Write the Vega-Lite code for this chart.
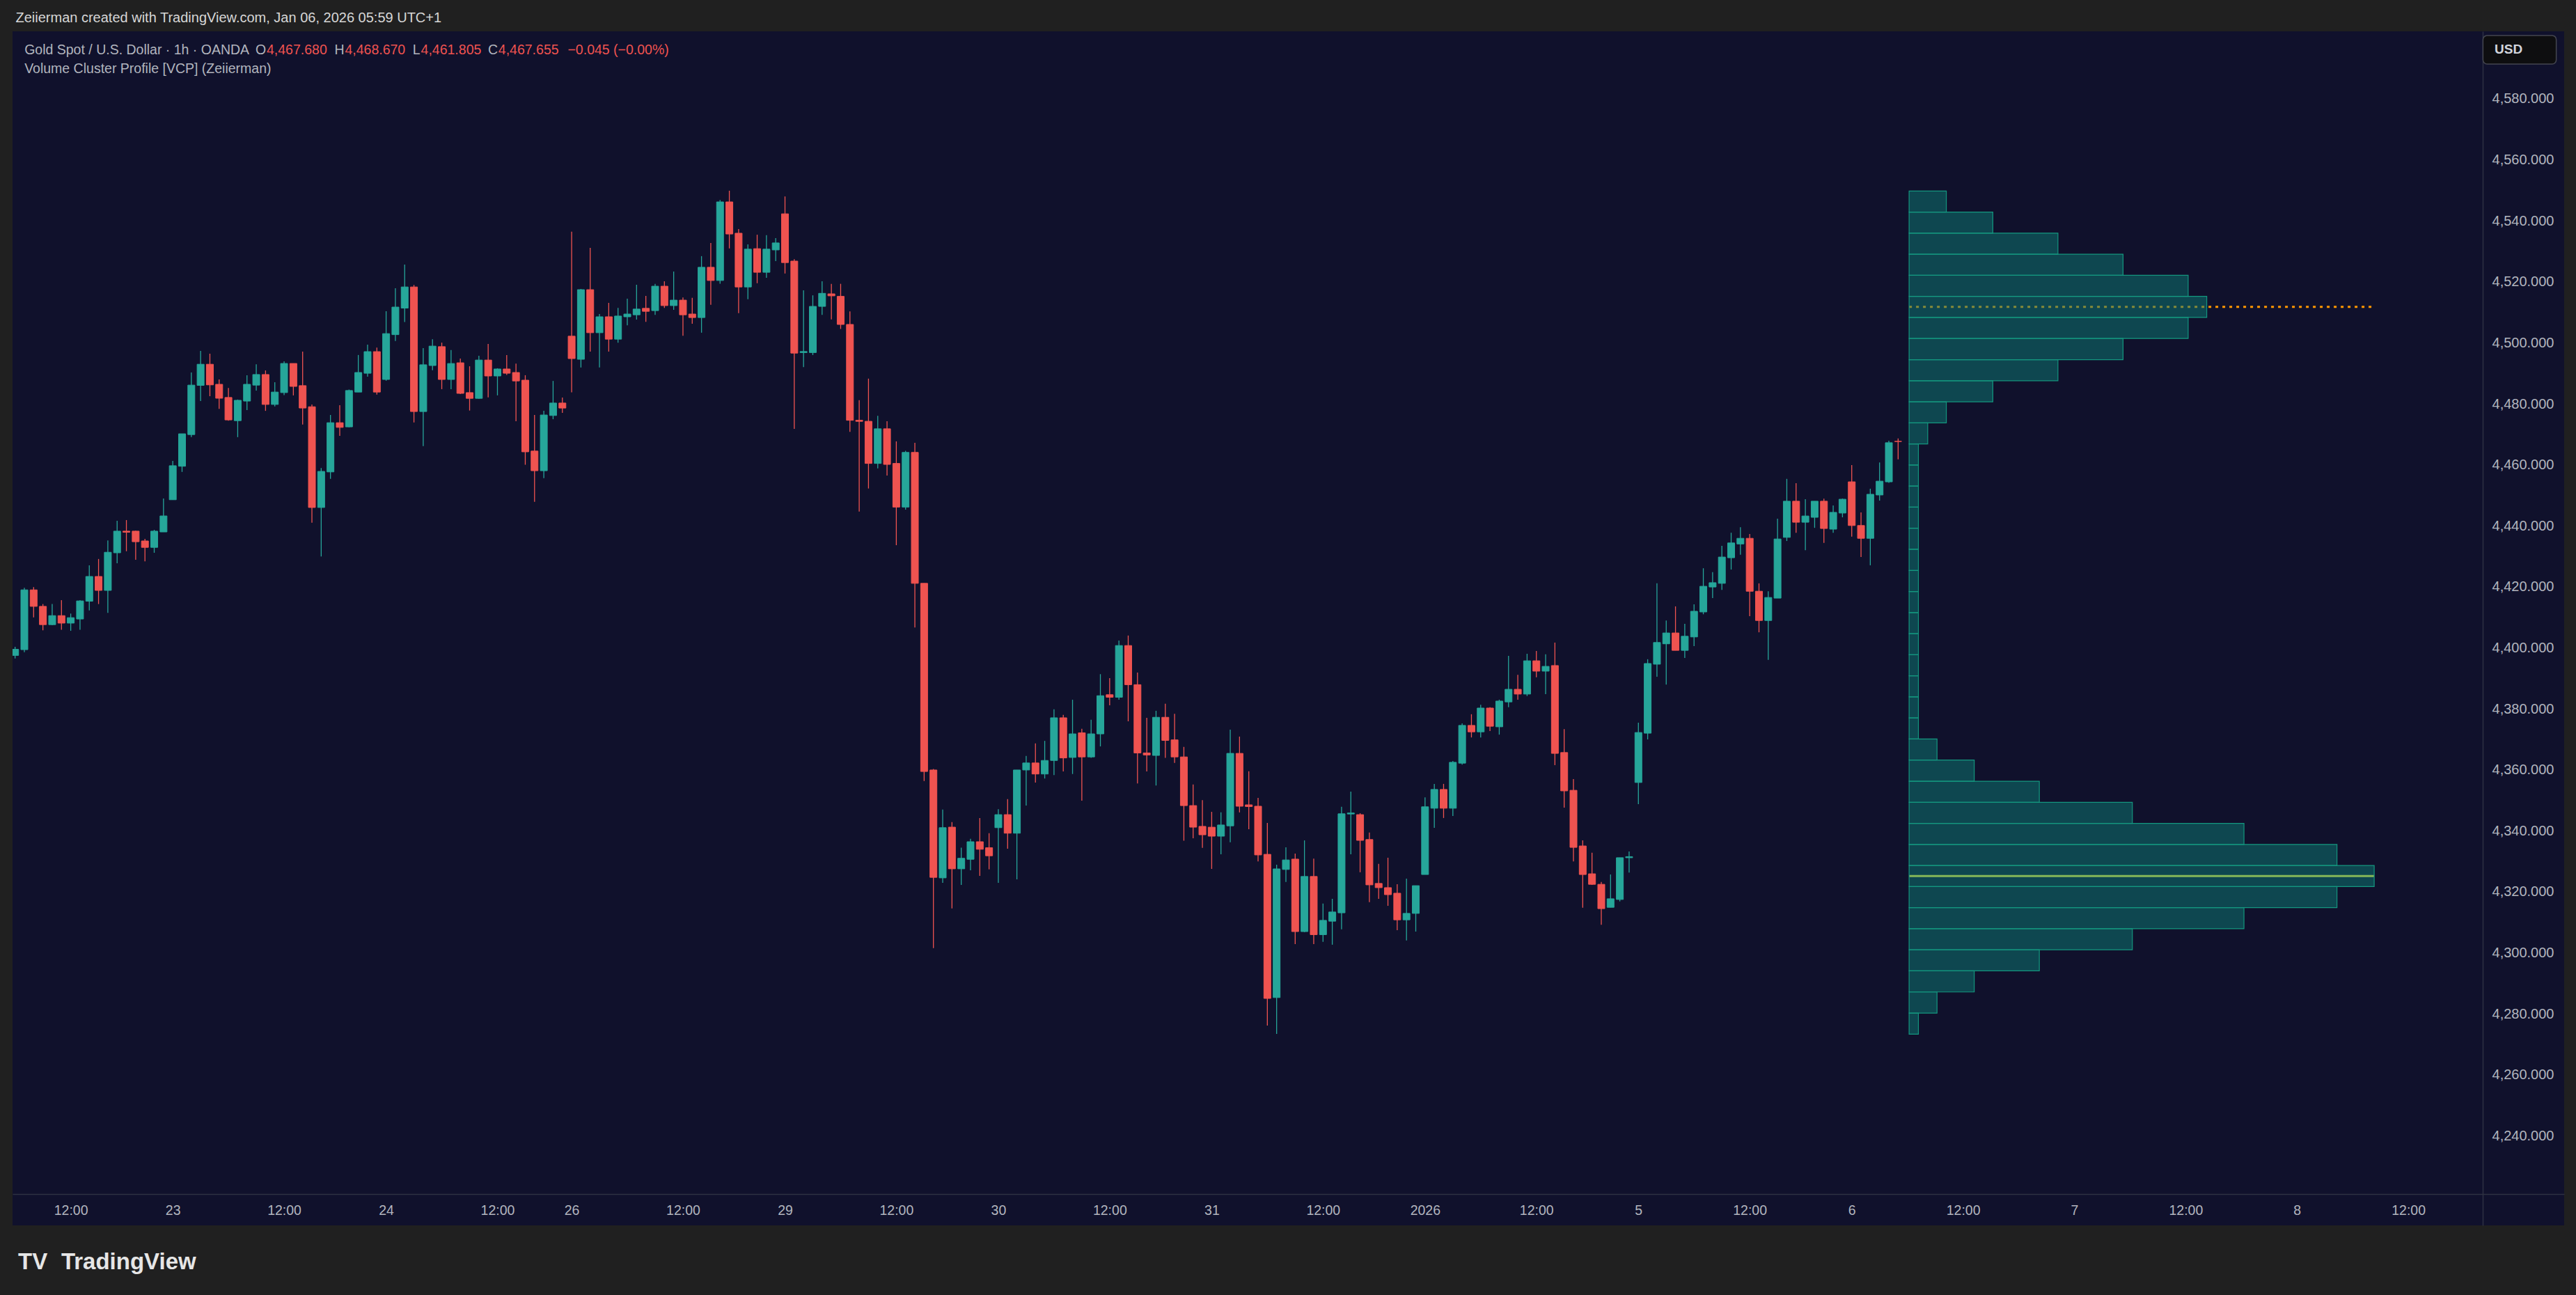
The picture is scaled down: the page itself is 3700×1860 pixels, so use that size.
{
  "$schema": "https://vega.github.io/schema/vega-lite/v6.json",
  "width": 3665,
  "height": 1715,
  "autosize": {"type": "none"},
  "padding": {"left": 18, "top": 45, "right": 17, "bottom": 100},
  "background": "#202020",
  "config": {
    "view": {"fill": "#10112c", "stroke": null},
    "text": {"font": "Liberation Sans"}
  },
  "datasets": {
    "candles": [
      {"i":6,"o":4397.5,"h":4400.3,"l":4396.5,"c":4399.5},
      {"i":7,"o":4399.39,"h":4419.66,"l":4398.55,"c":4418.99},
      {"i":8,"o":4418.99,"h":4419.92,"l":4409.95,"c":4413.58},
      {"i":9,"o":4413.58,"h":4414.34,"l":4405.73,"c":4407.59},
      {"i":10,"o":4407.59,"h":4414.34,"l":4407.42,"c":4410.54},
      {"i":11,"o":4410.54,"h":4415.61,"l":4405.9,"c":4408.09},
      {"i":12,"o":4408.09,"h":4411.22,"l":4405.56,"c":4409.87},
      {"i":13,"o":4409.44,"h":4415.61,"l":4405.9,"c":4415.36},
      {"i":14,"o":4415.27,"h":4427.01,"l":4412.23,"c":4423.38},
      {"i":15,"o":4423.38,"h":4429.12,"l":4414.34,"c":4418.82},
      {"i":16,"o":4418.82,"h":4435.2,"l":4411.47,"c":4431.32},
      {"i":17,"o":4431.15,"h":4441.62,"l":4427.69,"c":4438.24},
      {"i":18,"o":4438.24,"h":4441.88,"l":4431.66,"c":4437.9},
      {"i":19,"o":4438.24,"h":4438.41,"l":4428.87,"c":4434.78},
      {"i":20,"o":4435.03,"h":4435.71,"l":4428.36,"c":4432.92},
      {"i":21,"o":4432.92,"h":4438.67,"l":4431.15,"c":4438.24},
      {"i":22,"o":4437.99,"h":4448.97,"l":4437.99,"c":4443.23},
      {"i":23,"o":4448.55,"h":4461.3,"l":4448.55,"c":4459.7},
      {"i":24,"o":4459.53,"h":4470.17,"l":4457.67,"c":4470.17},
      {"i":25,"o":4469.92,"h":4490.27,"l":4469.07,"c":4486.13},
      {"i":26,"o":4486.05,"h":4497.37,"l":4480.9,"c":4492.97},
      {"i":27,"o":4492.97,"h":4496.44,"l":4482.5,"c":4486.22},
      {"i":28,"o":4486.39,"h":4487.99,"l":4478.36,"c":4481.83},
      {"i":29,"o":4482.08,"h":4485.2,"l":4474.48,"c":4474.73},
      {"i":30,"o":4474.48,"h":4481.4,"l":4469.07,"c":4481.15},
      {"i":31,"o":4480.9,"h":4489.34,"l":4477.94,"c":4486.39},
      {"i":32,"o":4486.13,"h":4492.97,"l":4484.36,"c":4489.6},
      {"i":33,"o":4489.6,"h":4490.95,"l":4477.69,"c":4479.8},
      {"i":34,"o":4479.8,"h":4487.06,"l":4479.12,"c":4483.85},
      {"i":35,"o":4483.68,"h":4493.9,"l":4482.84,"c":4493.23},
      {"i":36,"o":4493.23,"h":4493.23,"l":4482.76,"c":4485.71},
      {"i":37,"o":4485.96,"h":4497.11,"l":4473.21,"c":4478.62},
      {"i":38,"o":4479.04,"h":4479.8,"l":4441.03,"c":4446.01},
      {"i":39,"o":4446.01,"h":4458.94,"l":4429.97,"c":4457.84},
      {"i":40,"o":4457.67,"h":4476.34,"l":4455.39,"c":4473.8},
      {"i":41,"o":4473.8,"h":4479.55,"l":4469.49,"c":4472.28},
      {"i":42,"o":4472.45,"h":4484.7,"l":4472.28,"c":4484.36},
      {"i":43,"o":4483.85,"h":4496.01,"l":4483.85,"c":4490.27},
      {"i":44,"o":4490.02,"h":4499.39,"l":4488.92,"c":4497.11},
      {"i":45,"o":4497.11,"h":4498.46,"l":4483.0,"c":4483.85},
      {"i":46,"o":4487.99,"h":4510.37,"l":4487.57,"c":4503.02},
      {"i":47,"o":4502.69,"h":4517.89,"l":4500.58,"c":4511.72},
      {"i":48,"o":4511.39,"h":4525.66,"l":4506.83,"c":4518.32},
      {"i":49,"o":4518.32,"h":4518.98,"l":4473.89,"c":4477.47},
      {"i":50,"o":4477.47,"h":4498.27,"l":4466.14,"c":4492.8},
      {"i":51,"o":4492.56,"h":4501.2,"l":4491.01,"c":4498.92},
      {"i":52,"o":4498.75,"h":4500.06,"l":4484.81,"c":4487.99},
      {"i":53,"o":4487.99,"h":4497.61,"l":4484.81,"c":4493.21},
      {"i":54,"o":4493.45,"h":4494.84,"l":4483.18,"c":4483.43},
      {"i":55,"o":4483.67,"h":4492.31,"l":4477.8,"c":4481.79},
      {"i":56,"o":4481.79,"h":4495.74,"l":4481.63,"c":4494.35},
      {"i":57,"o":4494.35,"h":4499.65,"l":4482.12,"c":4489.13},
      {"i":58,"o":4489.13,"h":4491.66,"l":4482.77,"c":4491.42},
      {"i":59,"o":4491.42,"h":4495.98,"l":4489.46,"c":4490.03},
      {"i":60,"o":4490.27,"h":4493.21,"l":4474.29,"c":4487.5},
      {"i":61,"o":4487.75,"h":4489.38,"l":4460.02,"c":4464.26},
      {"i":62,"o":4464.51,"h":4476.33,"l":4447.87,"c":4458.07},
      {"i":63,"o":4458.07,"h":4477.72,"l":4455.62,"c":4476.33},
      {"i":64,"o":4476.17,"h":4487.5,"l":4474.95,"c":4480.25},
      {"i":65,"o":4480.25,"h":4482.04,"l":4477.06,"c":4478.61},
      {"i":66,"o":4502.18,"h":4536.43,"l":4483.75,"c":4494.84},
      {"i":67,"o":4494.6,"h":4517.67,"l":4491.91,"c":4517.43},
      {"i":68,"o":4517.43,"h":4531.13,"l":4497.12,"c":4503.32},
      {"i":69,"o":4503.32,"h":4509.44,"l":4491.91,"c":4508.54},
      {"i":70,"o":4508.54,"h":4513.11,"l":4497.12,"c":4501.2},
      {"i":71,"o":4501.2,"h":4511.47,"l":4500.06,"c":4508.78},
      {"i":72,"o":4508.54,"h":4514.49,"l":4505.77,"c":4509.44},
      {"i":73,"o":4509.19,"h":4519.06,"l":4507.64,"c":4511.07},
      {"i":74,"o":4511.31,"h":4515.39,"l":4506.91,"c":4510.33},
      {"i":75,"o":4510.57,"h":4519.3,"l":4509.19,"c":4518.57},
      {"i":76,"o":4518.57,"h":4520.2,"l":4511.47,"c":4512.21},
      {"i":77,"o":4512.21,"h":4523.38,"l":4510.82,"c":4514.0},
      {"i":78,"o":4514.0,"h":4514.9,"l":4502.34,"c":4509.19},
      {"i":79,"o":4509.44,"h":4514.74,"l":4506.26,"c":4508.29},
      {"i":80,"o":4508.29,"h":4528.43,"l":4503.32,"c":4524.77},
      {"i":81,"o":4524.77,"h":4532.76,"l":4512.45,"c":4520.44},
      {"i":82,"o":4520.44,"h":4546.86,"l":4519.38,"c":4546.21},
      {"i":83,"o":4546.21,"h":4549.88,"l":4530.96,"c":4535.69},
      {"i":84,"o":4535.94,"h":4537.32,"l":4509.76,"c":4518.32},
      {"i":85,"o":4518.32,"h":4532.27,"l":4514.33,"c":4530.72},
      {"i":86,"o":4530.88,"h":4535.45,"l":4519.55,"c":4523.13},
      {"i":87,"o":4523.13,"h":4535.28,"l":4521.34,"c":4530.72},
      {"i":88,"o":4530.47,"h":4534.31,"l":4526.8,"c":4532.76},
      {"i":89,"o":4542.3,"h":4548.0,"l":4522.73,"c":4526.31},
      {"i":90,"o":4526.8,"h":4527.46,"l":4471.76,"c":4496.63},
      {"i":91,"o":4496.81,"h":4517.22,"l":4492.04,"c":4497.15},
      {"i":92,"o":4496.81,"h":4515.57,"l":4495.99,"c":4511.95},
      {"i":93,"o":4511.95,"h":4520.18,"l":4509.15,"c":4516.23},
      {"i":94,"o":4516.06,"h":4519.35,"l":4507.67,"c":4515.41},
      {"i":95,"o":4515.24,"h":4519.35,"l":4504.55,"c":4506.03},
      {"i":96,"o":4506.03,"h":4510.31,"l":4470.82,"c":4474.6},
      {"i":97,"o":4474.6,"h":4481.18,"l":4444.66,"c":4474.25},
      {"i":98,"o":4474.27,"h":4488.26,"l":4452.23,"c":4460.45},
      {"i":99,"o":4460.45,"h":4476.08,"l":4458.81,"c":4471.81},
      {"i":100,"o":4471.81,"h":4474.27,"l":4456.51,"c":4460.13},
      {"i":101,"o":4460.45,"h":4467.69,"l":4433.64,"c":4446.14},
      {"i":102,"o":4446.14,"h":4464.57,"l":4445.32,"c":4464.07},
      {"i":103,"o":4464.07,"h":4467.2,"l":4406.65,"c":4421.13},
      {"i":104,"o":4421.13,"h":4421.13,"l":4356.31,"c":4359.43},
      {"i":105,"o":4359.93,"h":4360.26,"l":4301.52,"c":4324.72},
      {"i":106,"o":4324.55,"h":4346.93,"l":4322.91,"c":4341.01},
      {"i":107,"o":4341.18,"h":4342.82,"l":4314.52,"c":4327.52},
      {"i":108,"o":4327.52,"h":4334.43,"l":4322.25,"c":4330.97},
      {"i":109,"o":4330.64,"h":4337.39,"l":4327.02,"c":4336.4},
      {"i":110,"o":4336.4,"h":4344.13,"l":4325.21,"c":4333.93},
      {"i":111,"o":4334.43,"h":4339.2,"l":4327.35,"c":4331.79},
      {"i":112,"o":4341.01,"h":4347.09,"l":4322.91,"c":4345.28},
      {"i":113,"o":4345.28,"h":4350.38,"l":4334.1,"c":4339.2},
      {"i":114,"o":4339.2,"h":4359.93,"l":4324.06,"c":4359.93},
      {"i":115,"o":4359.93,"h":4364.54,"l":4348.25,"c":4362.23},
      {"i":116,"o":4362.23,"h":4368.65,"l":4355.81,"c":4358.61},
      {"i":117,"o":4358.61,"h":4369.47,"l":4357.13,"c":4363.05},
      {"i":118,"o":4363.05,"h":4379.84,"l":4358.28,"c":4377.04},
      {"i":119,"o":4377.04,"h":4378.03,"l":4359.43,"c":4363.88},
      {"i":120,"o":4364.04,"h":4382.96,"l":4358.61,"c":4371.77},
      {"i":121,"o":4372.1,"h":4373.42,"l":4349.89,"c":4364.21},
      {"i":122,"o":4364.21,"h":4376.38,"l":4363.88,"c":4371.77},
      {"i":123,"o":4371.77,"h":4391.35,"l":4367.66,"c":4384.28},
      {"i":124,"o":4384.61,"h":4390.04,"l":4381.15,"c":4383.78},
      {"i":125,"o":4383.78,"h":4402.38,"l":4382.96,"c":4400.73},
      {"i":126,"o":4400.73,"h":4404.02,"l":4375.89,"c":4387.9},
      {"i":127,"o":4387.9,"h":4391.85,"l":4355.49,"c":4365.52},
      {"i":128,"o":4365.52,"h":4377.04,"l":4359.43,"c":4364.86},
      {"i":129,"o":4364.7,"h":4379.34,"l":4354.83,"c":4377.2},
      {"i":130,"o":4377.2,"h":4381.64,"l":4363.88,"c":4369.63},
      {"i":131,"o":4369.8,"h":4378.35,"l":4362.23,"c":4364.21},
      {"i":132,"o":4364.21,"h":4367.5,"l":4336.73,"c":4348.25},
      {"i":133,"o":4348.25,"h":4355.16,"l":4337.55,"c":4341.18},
      {"i":134,"o":4341.43,"h":4350.05,"l":4334.37,"c":4338.68},
      {"i":135,"o":4341.16,"h":4346.2,"l":4327.49,"c":4338.22},
      {"i":136,"o":4338.22,"h":4346.02,"l":4332.26,"c":4341.89},
      {"i":137,"o":4341.61,"h":4373.17,"l":4336.2,"c":4365.37},
      {"i":138,"o":4365.37,"h":4370.88,"l":4346.02,"c":4348.04},
      {"i":139,"o":4348.49,"h":4359.5,"l":4340.51,"c":4347.94},
      {"i":140,"o":4348.04,"h":4350.79,"l":4329.97,"c":4332.08},
      {"i":141,"o":4332.26,"h":4342.53,"l":4276.12,"c":4285.02},
      {"i":142,"o":4285.3,"h":4328.86,"l":4273.37,"c":4327.49},
      {"i":143,"o":4327.31,"h":4334.55,"l":4323.18,"c":4330.42},
      {"i":144,"o":4330.7,"h":4332.53,"l":4302.81,"c":4306.94},
      {"i":145,"o":4306.94,"h":4336.84,"l":4306.76,"c":4325.01},
      {"i":146,"o":4325.01,"h":4330.88,"l":4302.81,"c":4305.93},
      {"i":147,"o":4305.93,"h":4316.11,"l":4303.55,"c":4310.61},
      {"i":148,"o":4310.34,"h":4317.67,"l":4302.63,"c":4313.36},
      {"i":149,"o":4313.09,"h":4347.85,"l":4307.68,"c":4345.56},
      {"i":150,"o":4345.5,"h":4352.81,"l":4332.26,"c":4345.82},
      {"i":151,"o":4345.28,"h":4345.74,"l":4326.39,"c":4336.85},
      {"i":152,"o":4337.12,"h":4339.41,"l":4316.57,"c":4322.26},
      {"i":153,"o":4322.72,"h":4329.14,"l":4317.67,"c":4321.34},
      {"i":154,"o":4321.34,"h":4331.16,"l":4315.38,"c":4319.05},
      {"i":155,"o":4319.51,"h":4322.44,"l":4307.4,"c":4310.79},
      {"i":156,"o":4310.79,"h":4324.28,"l":4304.01,"c":4312.9},
      {"i":157,"o":4312.9,"h":4321.99,"l":4306.94,"c":4321.99},
      {"i":158,"o":4325.65,"h":4350.97,"l":4325.65,"c":4347.85},
      {"i":159,"o":4347.39,"h":4355.37,"l":4340.97,"c":4353.54},
      {"i":160,"o":4353.54,"h":4355.37,"l":4344.18,"c":4347.39},
      {"i":161,"o":4347.39,"h":4362.9,"l":4344.82,"c":4362.44},
      {"i":162,"o":4362.16,"h":4375.19,"l":4361.7,"c":4374.54},
      {"i":163,"o":4374.54,"h":4378.21,"l":4370.6,"c":4372.43},
      {"i":164,"o":4372.43,"h":4381.33,"l":4370.6,"c":4380.23},
      {"i":165,"o":4380.23,"h":4380.51,"l":4372.71,"c":4374.27},
      {"i":166,"o":4374.09,"h":4382.98,"l":4371.52,"c":4382.52},
      {"i":167,"o":4382.25,"h":4397.38,"l":4380.51,"c":4386.38},
      {"i":168,"o":4386.38,"h":4391.15,"l":4382.98,"c":4384.82},
      {"i":169,"o":4384.82,"h":4398.03,"l":4384.18,"c":4395.73},
      {"i":170,"o":4395.73,"h":4398.94,"l":4390.32,"c":4392.34},
      {"i":171,"o":4392.34,"h":4397.84,"l":4384.82,"c":4393.9},
      {"i":172,"o":4394.17,"h":4401.7,"l":4361.52,"c":4365.37},
      {"i":173,"o":4365.65,"h":4373.35,"l":4347.58,"c":4353.08},
      {"i":174,"o":4353.26,"h":4356.93,"l":4329.97,"c":4334.55},
      {"i":175,"o":4335.01,"h":4336.84,"l":4314.74,"c":4325.65},
      {"i":176,"o":4325.88,"h":4332.77,"l":4322.21,"c":4322.43},
      {"i":177,"o":4322.43,"h":4323.18,"l":4309.18,"c":4314.46},
      {"i":178,"o":4314.89,"h":4325.66,"l":4314.89,"c":4317.69},
      {"i":179,"o":4317.47,"h":4331.16,"l":4316.83,"c":4331.16},
      {"i":180,"o":4331.16,"h":4333.2,"l":4326.31,"c":4331.5},
      {"i":181,"o":4355.83,"h":4375.44,"l":4348.72,"c":4372.21},
      {"i":182,"o":4371.99,"h":4396.24,"l":4369.95,"c":4394.84},
      {"i":183,"o":4394.62,"h":4421.13,"l":4390.53,"c":4401.73},
      {"i":184,"o":4401.3,"h":4408.95,"l":4387.94,"c":4404.86},
      {"i":185,"o":4404.86,"h":4413.58,"l":4399.15,"c":4399.15},
      {"i":186,"o":4399.15,"h":4407.87,"l":4396.67,"c":4403.78},
      {"i":187,"o":4403.56,"h":4414.23,"l":4400.55,"c":4411.97},
      {"i":188,"o":4411.75,"h":4426.08,"l":4410.99,"c":4420.16},
      {"i":189,"o":4419.94,"h":4424.79,"l":4416.28,"c":4421.34},
      {"i":190,"o":4421.13,"h":4433.41,"l":4418.97,"c":4429.75},
      {"i":191,"o":4429.53,"h":4437.72,"l":4425.65,"c":4434.38},
      {"i":192,"o":4434.05,"h":4439.55,"l":4430.5,"c":4435.89},
      {"i":193,"o":4435.89,"h":4437.29,"l":4410.35,"c":4418.54},
      {"i":194,"o":4418.54,"h":4421.13,"l":4405.07,"c":4408.95},
      {"i":195,"o":4408.95,"h":4418.54,"l":4396.02,"c":4416.49},
      {"i":196,"o":4416.28,"h":4442.35,"l":4416.28,"c":4435.67},
      {"i":197,"o":4436.21,"h":4455.39,"l":4435.02,"c":4448.06},
      {"i":198,"o":4448.06,"h":4453.99,"l":4437.72,"c":4441.17},
      {"i":199,"o":4441.17,"h":4448.71,"l":4432.01,"c":4443.21},
      {"i":200,"o":4442.78,"h":4448.06,"l":4439.33,"c":4448.06},
      {"i":201,"o":4448.06,"h":4448.92,"l":4434.38,"c":4439.12},
      {"i":202,"o":4438.9,"h":4446.66,"l":4437.72,"c":4444.4},
      {"i":203,"o":4444.18,"h":4448.92,"l":4442.78,"c":4448.71},
      {"i":204,"o":4454.42,"h":4459.91,"l":4436.43,"c":4440.09},
      {"i":205,"o":4440.09,"h":4444.4,"l":4429.75,"c":4435.89},
      {"i":206,"o":4435.89,"h":4452.16,"l":4427.05,"c":4450.33},
      {"i":207,"o":4450.11,"h":4460.78,"l":4448.28,"c":4454.63},
      {"i":208,"o":4454.42,"h":4467.89,"l":4454.1,"c":4467.24},
      {"i":209,"o":4467.68,"h":4468.67,"l":4461.805,"c":4467.655}
    ],
    "profile": [
      {"lo":4273.31,"hi":4280.22,"vol":2},
      {"lo":4280.22,"hi":4287.13,"vol":6},
      {"lo":4287.13,"hi":4294.05,"vol":14},
      {"lo":4294.05,"hi":4300.96,"vol":28},
      {"lo":4300.96,"hi":4307.87,"vol":48},
      {"lo":4307.87,"hi":4314.78,"vol":72},
      {"lo":4314.78,"hi":4321.69,"vol":92},
      {"lo":4321.69,"hi":4328.61,"vol":100},
      {"lo":4328.61,"hi":4335.52,"vol":92},
      {"lo":4335.52,"hi":4342.43,"vol":72},
      {"lo":4342.43,"hi":4349.34,"vol":48},
      {"lo":4349.34,"hi":4356.25,"vol":28},
      {"lo":4356.25,"hi":4363.17,"vol":14},
      {"lo":4363.17,"hi":4370.08,"vol":6},
      {"lo":4370.08,"hi":4376.99,"vol":2},
      {"lo":4376.99,"hi":4383.9,"vol":2},
      {"lo":4383.9,"hi":4390.81,"vol":2},
      {"lo":4390.81,"hi":4397.73,"vol":2},
      {"lo":4397.73,"hi":4404.64,"vol":2},
      {"lo":4404.64,"hi":4411.55,"vol":2},
      {"lo":4411.55,"hi":4418.46,"vol":2},
      {"lo":4418.46,"hi":4425.37,"vol":2},
      {"lo":4425.37,"hi":4432.29,"vol":2},
      {"lo":4432.29,"hi":4439.2,"vol":2},
      {"lo":4439.2,"hi":4446.11,"vol":2},
      {"lo":4446.11,"hi":4453.02,"vol":2},
      {"lo":4453.02,"hi":4459.93,"vol":2},
      {"lo":4459.93,"hi":4466.85,"vol":2},
      {"lo":4466.85,"hi":4473.76,"vol":4},
      {"lo":4473.76,"hi":4480.67,"vol":8},
      {"lo":4480.67,"hi":4487.58,"vol":18},
      {"lo":4487.58,"hi":4494.49,"vol":32},
      {"lo":4494.49,"hi":4501.41,"vol":46},
      {"lo":4501.41,"hi":4508.32,"vol":60},
      {"lo":4508.32,"hi":4515.23,"vol":64},
      {"lo":4515.23,"hi":4522.14,"vol":60},
      {"lo":4522.14,"hi":4529.05,"vol":46},
      {"lo":4529.05,"hi":4535.97,"vol":32},
      {"lo":4535.97,"hi":4542.88,"vol":18},
      {"lo":4542.88,"hi":4549.79,"vol":8}
    ]
  },
  "layer": [
    {
      "layer": [
        {
          "data": {"name": "candles"},
          "mark": {"type": "rule", "strokeWidth": 1.3, "clip": true},
          "encoding": {
            "x": {"field": "i", "type": "quantitative", "title": null,
              "scale": {"domain": [6.1003, 280.427], "nice": false, "zero": false},
              "axis": {
                "orient": "bottom", "offset": -45, "title": null, "grid": false,
                "ticks": false, "tickSize": 0,
                "domainColor": "#2e3142", "domainWidth": 1.5,
                "values": [12,23,35,46,58,66,78,89,101,112,124,135,147,158,170,181,193,204,216,228,240,252,264],
                "labelExpr": "['12:00','23','12:00','24','12:00','26','12:00','29','12:00','30','12:00','31','12:00','2026','12:00','5','12:00','6','12:00','7','12:00','8','12:00'][indexof([12,23,35,46,58,66,78,89,101,112,124,135,147,158,170,181,193,204,216,228,240,252,264], datum.value)]",
                "labelPadding": 23, "labelBaseline": "middle", "labelAlign": "center",
                "labelFont": "Liberation Sans", "labelFontSize": 19.5, "labelColor": "#b2b5be",
                "labelOverlap": false, "labelFlush": false, "labelBound": false
              }
            },
            "y": {"field": "l", "type": "quantitative", "title": null,
              "scale": {"domain": [4210.594, 4602.146], "nice": false, "zero": false},
              "axis": {
                "orient": "right", "offset": -117, "title": null, "grid": false,
                "ticks": false, "tickSize": 0,
                "domainColor": "#2e3142", "domainWidth": 1.5,
                "values": [4240,4260,4280,4300,4320,4340,4360,4380,4400,4420,4440,4460,4480,4500,4520,4540,4560,4580],
                "format": ",.3f",
                "labelPadding": 102, "labelAlign": "right", "labelBaseline": "middle",
                "labelFont": "Liberation Sans", "labelFontSize": 20, "labelColor": "#b2b5be",
                "labelOverlap": false, "labelFlush": false, "labelBound": false
              }
            },
            "y2": {"field": "h"},
            "color": {"condition": {"test": "datum.c >= datum.o", "value": "#26a69a"}, "value": "#ef5350"}
          }
        },
        {
          "data": {"name": "candles"},
          "mark": {"type": "bar", "orient": "vertical", "size": 10, "strokeWidth": 1, "clip": true},
          "encoding": {
            "x": {"field": "i", "type": "quantitative", "title": null,
              "scale": {"domain": [6.1003, 280.427], "nice": false, "zero": false}},
            "y": {"field": "o", "type": "quantitative", "title": null,
              "scale": {"domain": [4210.594, 4602.146], "nice": false, "zero": false}},
            "y2": {"field": "c"},
            "color": {"condition": {"test": "datum.c >= datum.o", "value": "#26a69a"}, "value": "#ef5350"},
            "stroke": {"condition": {"test": "datum.c >= datum.o", "value": "#26a69a"}, "value": "#ef5350"}
          }
        },
        {
          "data": {"values": [{"t": "Zeiierman created with TradingView.com, Jan 06, 2026 05:59 UTC+1"}]},
          "mark": {"type": "text", "align": "left", "baseline": "middle", "fontSize": 20, "color": "#d6d6d6", "font": "Liberation Sans"},
          "encoding": {"x": {"datum": 6.06}, "y": {"datum": 4606.48}, "text": {"field": "t"}}
        },
        {
          "data": {"values": [{"t": "Gold Spot / U.S. Dollar · 1h · OANDA"}]},
          "mark": {"type": "text", "align": "left", "baseline": "middle", "fontSize": 19.5, "color": "#b2b5be", "font": "Liberation Sans"},
          "encoding": {"x": {"datum": 7.013}, "y": {"datum": 4596.05}, "text": {"field": "t"}}
        },
        {
          "data": {"values": [{"t": "O"}]},
          "mark": {"type": "text", "align": "left", "baseline": "middle", "fontSize": 19.5, "color": "#b2b5be", "font": "Liberation Sans"},
          "encoding": {"x": {"datum": 31.92}, "y": {"datum": 4596.05}, "text": {"field": "t"}}
        },
        {
          "data": {"values": [{"t": "4,467.680"}]},
          "mark": {"type": "text", "align": "left", "baseline": "middle", "fontSize": 19.5, "color": "#ef5350", "font": "Liberation Sans"},
          "encoding": {"x": {"datum": 33.12}, "y": {"datum": 4596.05}, "text": {"field": "t"}}
        },
        {
          "data": {"values": [{"t": "H"}]},
          "mark": {"type": "text", "align": "left", "baseline": "middle", "fontSize": 19.5, "color": "#b2b5be", "font": "Liberation Sans"},
          "encoding": {"x": {"datum": 40.43}, "y": {"datum": 4596.05}, "text": {"field": "t"}}
        },
        {
          "data": {"values": [{"t": "4,468.670"}]},
          "mark": {"type": "text", "align": "left", "baseline": "middle", "fontSize": 19.5, "color": "#ef5350", "font": "Liberation Sans"},
          "encoding": {"x": {"datum": 41.56}, "y": {"datum": 4596.05}, "text": {"field": "t"}}
        },
        {
          "data": {"values": [{"t": "L"}]},
          "mark": {"type": "text", "align": "left", "baseline": "middle", "fontSize": 19.5, "color": "#b2b5be", "font": "Liberation Sans"},
          "encoding": {"x": {"datum": 48.87}, "y": {"datum": 4596.05}, "text": {"field": "t"}}
        },
        {
          "data": {"values": [{"t": "4,461.805"}]},
          "mark": {"type": "text", "align": "left", "baseline": "middle", "fontSize": 19.5, "color": "#ef5350", "font": "Liberation Sans"},
          "encoding": {"x": {"datum": 49.75}, "y": {"datum": 4596.05}, "text": {"field": "t"}}
        },
        {
          "data": {"values": [{"t": "C"}]},
          "mark": {"type": "text", "align": "left", "baseline": "middle", "fontSize": 19.5, "color": "#b2b5be", "font": "Liberation Sans"},
          "encoding": {"x": {"datum": 56.98}, "y": {"datum": 4596.05}, "text": {"field": "t"}}
        },
        {
          "data": {"values": [{"t": "4,467.655"}]},
          "mark": {"type": "text", "align": "left", "baseline": "middle", "fontSize": 19.5, "color": "#ef5350", "font": "Liberation Sans"},
          "encoding": {"x": {"datum": 58.1}, "y": {"datum": 4596.05}, "text": {"field": "t"}}
        },
        {
          "data": {"values": [{"t": "−0.045 (−0.00%)"}]},
          "mark": {"type": "text", "align": "left", "baseline": "middle", "fontSize": 19.5, "color": "#ef5350", "font": "Liberation Sans"},
          "encoding": {"x": {"datum": 65.58}, "y": {"datum": 4596.05}, "text": {"field": "t"}}
        },
        {
          "data": {"values": [{"t": "Volume Cluster Profile [VCP] (Zeiierman)"}]},
          "mark": {"type": "text", "align": "left", "baseline": "middle", "fontSize": 19.5, "color": "#b2b5be", "font": "Liberation Sans"},
          "encoding": {"x": {"datum": 7.013}, "y": {"datum": 4589.75}, "text": {"field": "t"}}
        },
        {
          "data": {"values": [{"t": "USD"}]},
          "mark": {"type": "rect", "fill": "#0e0e10", "stroke": "#44464f", "strokeWidth": 1.5, "cornerRadius": 6},
          "encoding": {"x": {"datum": 272.05}, "x2": {"datum": 279.95}, "y": {"datum": 4600.8}, "y2": {"datum": 4591.4}}
        },
        {
          "data": {"values": [{"t": "USD"}]},
          "mark": {"type": "text", "align": "left", "baseline": "middle", "fontSize": 19, "fontWeight": "bold", "color": "#d1d4dc", "font": "Liberation Sans"},
          "encoding": {"x": {"datum": 273.3}, "y": {"datum": 4596.1}, "text": {"field": "t"}}
        },
        {
          "data": {"values": [{"t": "TV"}]},
          "mark": {"type": "text", "align": "left", "baseline": "alphabetic", "fontSize": 33, "fontWeight": "bold", "color": "#e6e6e6", "font": "Liberation Sans"},
          "encoding": {"x": {"datum": 6.33}, "y": {"datum": 4196.28}, "text": {"field": "t"}}
        },
        {
          "data": {"values": [{"t": "TradingView"}]},
          "mark": {"type": "text", "align": "left", "baseline": "alphabetic", "fontSize": 33, "fontWeight": "bold", "color": "#e6e6e6", "font": "Liberation Sans"},
          "encoding": {"x": {"datum": 10.97}, "y": {"datum": 4196.28}, "text": {"field": "t"}}
        }
      ]
    },
    {
      "layer": [
        {
          "data": {"values": [{"poc": "upper"}]},
          "mark": {"type": "rule", "color": "#ff9800", "strokeWidth": 3, "strokeDash": [4, 6], "strokeCap": "butt"},
          "encoding": {
            "x": {"datum": 0, "type": "quantitative", "scale": {"domain": [-407.8, 140.85], "nice": false, "zero": false}, "axis": null},
            "x2": {"datum": 100},
            "y": {"datum": 4511.775, "type": "quantitative"}
          }
        },
        {
          "data": {"values": [{"poc": "lower"}]},
          "mark": {"type": "rule", "color": "#fff03c", "strokeWidth": 3},
          "encoding": {
            "x": {"datum": 0, "type": "quantitative", "scale": {"domain": [-407.8, 140.85], "nice": false, "zero": false}, "axis": null},
            "x2": {"datum": 100},
            "y": {"datum": 4325.15, "type": "quantitative"}
          }
        },
        {
          "data": {"name": "profile"},
          "mark": {"type": "rect", "fill": "#0b7d74", "fillOpacity": 0.5, "stroke": "#14977f", "strokeWidth": 1.2},
          "encoding": {
            "x": {"field": "vol", "type": "quantitative", "title": null, "scale": {"domain": [-407.8, 140.85], "nice": false, "zero": false}, "axis": null},
            "x2": {"datum": 0},
            "y": {"field": "lo", "type": "quantitative", "title": null},
            "y2": {"field": "hi"}
          }
        }
      ]
    }
  ],
  "resolve": {"scale": {"x": "independent"}}
}
